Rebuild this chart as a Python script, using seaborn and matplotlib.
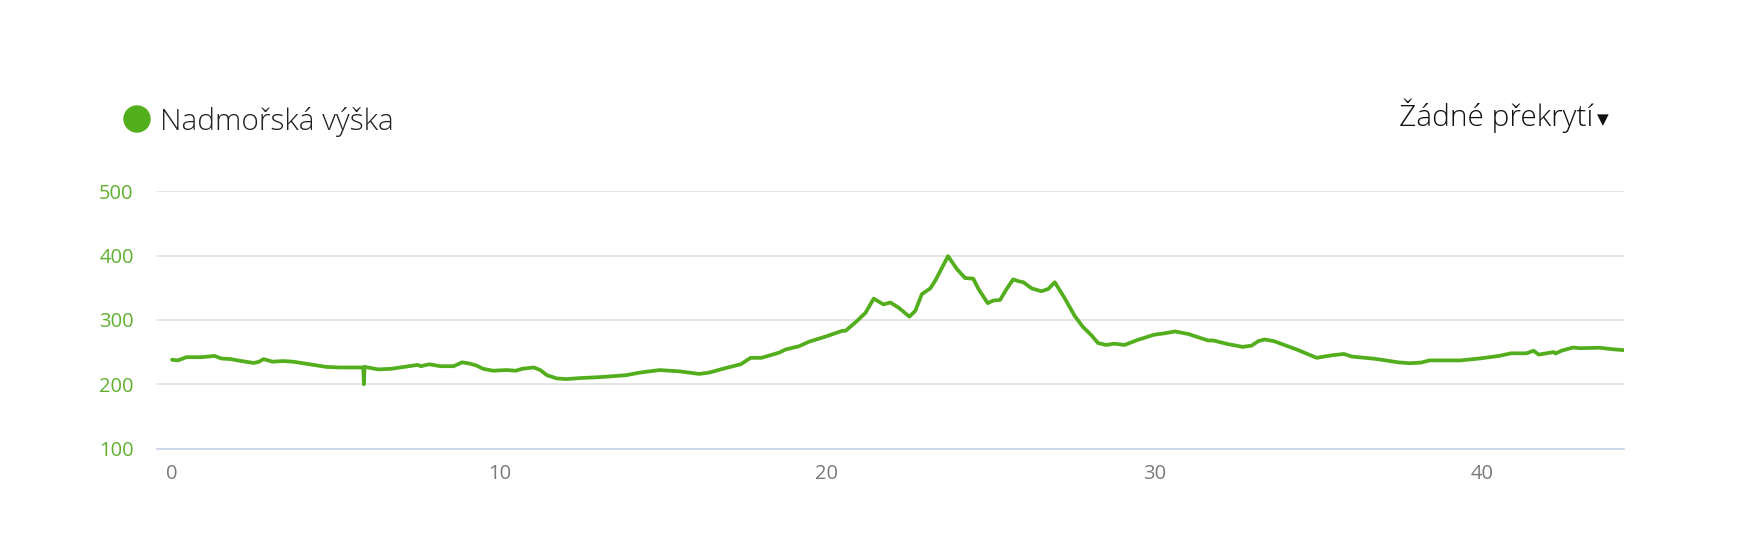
import matplotlib
matplotlib.use('Agg')
import matplotlib.pyplot as plt
import seaborn as sns
import pandas as pd

# elevation profile (distance in km, height in m)
distance_km = [
    0.0, 0.18, 0.44, 0.9, 1.3, 1.5, 1.8, 2.0, 2.5, 2.66, 2.8, 3.07, 3.4, 3.7,
    4.2, 4.7, 5.1, 5.84, 5.86, 5.88, 6.3, 6.7, 7.1, 7.5, 7.6, 7.85, 8.2, 8.6,
    8.86, 9.1, 9.3, 9.5, 9.8, 10.2, 10.5, 10.7, 11.05, 11.25, 11.45, 11.75,
    12.05, 12.45, 13.06, 13.87, 14.28, 14.89, 15.5, 16.1, 16.4, 16.9, 17.37,
    17.67, 18.0, 18.54, 18.74, 19.15, 19.45, 19.96, 20.47, 20.57, 20.87, 21.18,
    21.43, 21.73, 21.94, 22.19, 22.52, 22.7, 22.9, 23.16, 23.31, 23.7, 23.97,
    24.22, 24.47, 24.63, 24.91, 25.08, 25.29, 25.49, 25.69, 25.85, 26.0, 26.25,
    26.55, 26.76, 26.96, 27.27, 27.57, 27.82, 28.08, 28.28, 28.53, 28.78, 29.09,
    29.5, 30.0, 30.3, 30.63, 31.04, 31.64, 31.8, 32.23, 32.7, 32.97, 33.18,
    33.36, 33.65, 34.37, 34.96, 35.43, 35.79, 36.03, 36.74, 37.45, 37.8, 38.16,
    38.4, 39.35, 39.94, 40.53, 40.89, 41.36, 41.58, 41.74, 42.2, 42.25, 42.43,
    42.79, 43.0, 43.6, 43.96, 44.33,
]
elevation_m = [
    238, 237, 242, 242, 244, 240, 239, 237, 233, 235, 239, 235, 236, 235,
    231, 227, 226, 226, 200, 227, 223, 224, 227, 230, 228, 231, 228, 228,
    234, 232, 229, 224, 221, 222, 221, 224, 226, 222, 214, 209,
    208, 209.5, 211, 214, 218, 222, 220, 216, 218, 225, 231,
    241, 241, 249, 254, 259, 266, 274, 283, 283, 296, 311,
    333, 324, 327, 319, 305, 314, 340, 349, 361, 399, 379,
    365, 364, 348, 326, 330, 331, 348, 363, 360, 358.5, 349,
    344.5, 348, 358.5, 333, 306, 289, 276, 264, 261, 263, 261,
    269, 277, 279, 282, 278, 268, 268, 262.5, 258, 260, 267,
    269.5, 267, 253.5, 241, 245, 247, 243, 239.5, 234, 232.6, 233.7,
    237, 237, 240, 244, 248, 248, 252, 246, 250, 247.6, 252,
    257, 256, 256.7, 254.5, 253,
]
y_ticks = [100, 200, 300, 400, 500]
x_ticks = [0, 10, 20, 30, 40]

series_name = 'Nadmořská výška'
overlay_label = 'Žádné překrytí'

GREEN = '#52ae1c'
LABEL_GREEN = '#60b030'

sns.set_theme(style='white')
plt.rcParams['font.family'] = ['Open Sans', 'DejaVu Sans']

df = pd.DataFrame({'km': distance_km, 'm': elevation_m})

fig = plt.figure(figsize=(17.59, 5.34), dpi=100)
ax = fig.add_axes([0.0894, 0.160, 0.8336, 0.482])

sns.lineplot(data=df, x='km', y='m', ax=ax, color=GREEN, linewidth=2.7,
             sort=False, estimator=None, zorder=3)

ax.set_xlim(-0.45, 44.33)
ax.set_ylim(100, 500)
ax.set_yticks(y_ticks)
ax.set_xticks(x_ticks)
ax.yaxis.grid(True, color='#e0e0e0', linewidth=1.2)
ax.xaxis.grid(False)
for side in ['top', 'right', 'left']:
    ax.spines[side].set_visible(False)
ax.spines['bottom'].set_color('#ccd6eb')
ax.spines['bottom'].set_linewidth(1.3)
ax.set_xlabel('')
ax.set_ylabel('')
ax.tick_params(axis='y', length=0, pad=17, labelsize=14.5, labelcolor=LABEL_GREEN)
ax.tick_params(axis='x', length=0, pad=11, labelsize=14.5, labelcolor='#7a7a7a')

# legend header drawn as figure text
fig.patches.append(matplotlib.patches.Ellipse((137 / 1759, 1 - 119 / 534), 26 / 1759, 26 / 534,
                                              transform=fig.transFigure, color=GREEN))
fig.text(160 / 1759, 1 - 130 / 534, series_name, fontsize=21.5, fontweight='light',
         color='#222222', va='baseline', ha='left')
fig.text(1399 / 1759, 1 - 126 / 534, overlay_label, fontsize=21.5, fontweight='light',
         color='#111111', va='baseline', ha='left')
fig.text(1603 / 1759, 1 - 120 / 534, '▼', fontsize=11, color='#111111',
         va='center', ha='center', family=['DejaVu Sans'])

fig.savefig('out.png', dpi=100, facecolor='white')
plt.close(fig)
